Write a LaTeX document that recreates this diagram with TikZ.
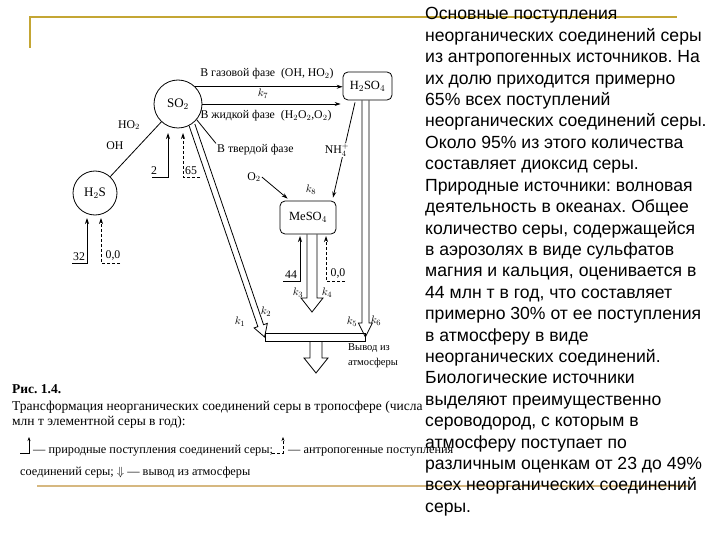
\documentclass[tikz,border=0pt]{standalone}
\usepackage{fontspec}
\setmainfont{Liberation Serif}
\newfontfamily\slidefont{Liberation Sans}
\usetikzlibrary{calc, positioning}
\usetikzlibrary{arrows.meta}
\frenchspacing

\definecolor{slidegold}{RGB}{196,166,52}
\definecolor{slidetan}{RGB}{214,184,128}

% open broad arrow: start, tip, stem half width, head half width, head length
\newcommand{\fatarrow}[5]{%
  \coordinate (fh) at ($(#2)!#5!(#1)$);
  \draw[thick] ($(#1)!#3!90:(#2)$) -- ($(fh)!#3!90:(#2)$) -- ($(fh)!#4!90:(#2)$) -- (#2)
    -- ($(fh)!#4!-90:(#2)$) -- ($(fh)!#3!-90:(#2)$) -- ($(#1)!#3!-90:(#2)$);
}

\begin{document}
\begin{tikzpicture}[x=1pt, y=-1pt,
  lbl/.style={font=\fontsize{11.8}{13}\selectfont, inner sep=1pt},
  kk/.style={font=\fontsize{11}{12}\selectfont, inner sep=0.5pt},
  species/.style={draw, thick, circle, minimum size=48pt, inner sep=0pt, font=\fontsize{13}{14}\selectfont},
  salt/.style={draw, thick, rounded corners=5pt, inner sep=0pt, font=\fontsize{12.5}{14}\selectfont},
  flow/.style={thick, -{Stealth[length=6pt, width=4pt]}},
  anthro/.style={flow, densely dashed},
  captext/.style={anchor=base west, inner sep=0pt, font=\fontsize{13.5}{15}\selectfont},
  legend/.style={anchor=base west, inner sep=0pt, font=\fontsize{12.3}{13}\selectfont},
  slide/.style={anchor=base west, inner sep=0pt, font=\slidefont\fontsize{17.6}{21}\selectfont}]
\useasboundingbox (0,0) rectangle (720,540);

\draw[slidegold, line width=2.5pt] (30,48) -- (30,17) -- (677,17);
\draw[slidetan, line width=1.5pt] (37,486) -- (688,486);

% compounds
\node[species] (SO2) at (178,104) {SO$_2$};
\node[species, minimum size=44pt] (H2S) at (95,193) {H$_2$S};
\node[salt, minimum width=49pt, minimum height=28pt] (H2SO4) at (367.5,86) {H$_2$SO$_4$};
\node[salt, minimum width=56pt, minimum height=33pt] (MeSO4) at (308,217.5) {MeSO$_4$};
\node[draw, thick, minimum width=100pt, minimum height=8pt, inner sep=0pt] (bar) at (315,337) {};

% oxidation of SO2
\draw[thick] (H2S) -- (SO2);
\node[lbl] (ho2) at (129,125) {HO$_2$};
\node[lbl] (oh) at (115,146) {OH};
\draw[flow] (SO2.45) -- (SO2.45 -| H2SO4.west);
\draw[flow] (SO2.east) -- ($(SO2.east -| H2SO4.west)+(-2,0)$);
\node[lbl] (gas) at (267,74) {В газовой фазе\ \ (OH, HO$_2$)};
\node[kk] (k7) at (263,94) {$k_7$};
\node[lbl] (liq) at (266,116) {В жидкой фазе\ \ (H$_2$O$_2$,O$_2$)};
\node[lbl, anchor=west] (sol) at (216,150) {В твердой фазе};
\draw[thick] (SO2.-40) -- (sol.north west);

% inputs
\coordinate (in2) at ($(SO2)+(-26,73)$);
\coordinate (in65) at ($(SO2)+(22,73)$);
\draw[flow] (in2) -| ($(SO2)+(-10,29)$);
\draw[anthro] (in65) -| ($(SO2)+(5,29)$);
\node[lbl, anchor=south] at ($(in2)+(2,-1)$) {2};
\node[lbl, anchor=south] at ($(in65)+(-9,-1)$) {65};

\coordinate (in32) at ($(H2S)+(-23,70)$);
\coordinate (in00) at ($(H2S)+(25,70)$);
\draw[flow] (in32) -| ($(H2S)+(-8,25)$);
\draw[anthro] (in00) -| ($(H2S)+(6,25)$);
\node[lbl, anchor=south] at ($(in32)+(7,-1)$) {32};
\node[lbl, anchor=south] at ($(in00)+(-7,-1)$) {0,0};

\coordinate (in44) at ($(MeSO4)+(-25,63.5)$);
\coordinate (inm) at ($(MeSO4)+(37,63.5)$);
\draw[flow] (in44) -| ($(MeSO4)+(-8,18.5)$);
\draw[anthro] (inm) -| ($(MeSO4)+(18,18.5)$);
\node[lbl, anchor=south] at ($(in44)+(8,-1)$) {44};
\node[lbl, anchor=south] at ($(inm)+(-7,-1)$) {0,0};

% sulphate formation
\node[lbl] (O2) at (254,177) {O$_2$};
\draw[flow] (O2.east) -- ($(MeSO4.north west)+(8,-2)$);
\node[kk] (k8) at ($(MeSO4)+(3,-27.5)$) {$k_8$};
\draw[flow] ($(H2SO4.south)+(-12.5,2)$) -- ($(MeSO4.north)+(25,-3)$);
\node[lbl, fill=white, inner sep=0.5pt] (nh4) at (337,150) {NH$_4^+$};

% removal
\coordinate (so2out) at (192,125);
\coordinate (mout) at (312,312);
\fatarrow{so2out}{bar.west}{3pt}{7pt}{12pt}
\fatarrow{bar.east |- H2SO4.south}{bar.east}{3.5pt}{7pt}{14pt}
\fatarrow{MeSO4.south -| mout}{mout}{5pt}{11pt}{14pt}
\coordinate (sink) at (316,373);
\fatarrow{bar.south -| sink}{sink}{6pt}{12pt}{15pt}
\node[kk] (k1) at (240,322) {$k_1$};
\node[kk] (k2) at (266,312) {$k_2$};
\node[kk] (k3) at ($(MeSO4)+(-10,75)$) {$k_3$};
\node[kk] (k4) at ($(MeSO4)+(19,75)$) {$k_4$};
\node[kk] (k5) at (352,322) {$k_5$};
\node[kk] (k6) at (376,321) {$k_6$};
\node[anchor=north west, align=left, inner sep=0pt, font=\fontsize{10.5}{15}\selectfont] (out) at (348,343) {Вывод из\\атмосферы};

% caption
\node[captext, font=\bfseries\fontsize{13.5}{15}\selectfont] (fig) at (12,393) {Рис. 1.4.};
\node[captext] (cap1) at (12,410) {Трансформация неорганических соединений серы в тропосфере (числа};
\node[captext] (cap2) at (12,425) {млн т элементной серы в год):};
\coordinate (ln1) at (20,453);
\coordinate (la1) at (272,453);
\draw[flow, -{Stealth[length=4pt, width=3pt]}] (ln1) -| ($(ln1)+(9,-16)$);
\draw[anthro, -{Stealth[length=4pt, width=3pt]}] (la1) -| ($(la1)+(11,-16)$);
\node[legend] (leg1) at (33,453) {--- природные поступления соединений серы;};
\node[legend] (leg2) at (288,453) {--- антропогенные поступления};
\node[legend] (leg3) at (20,475) {соединений серы; $\Downarrow$ --- вывод из атмосферы};

% slide text
\foreach \t [count=\i] in {{Основные поступления}, {неорганических соединений серы},
  {из антропогенных источников. На}, {их долю приходится примерно},
  {65\% всех поступлений}, {неорганических соединений серы.},
  {Около 95\% из этого количества}, {составляет диоксид серы.},
  {Природные источники: волновая}, {деятельность в океанах. Общее},
  {количество серы, содержащейся}, {в аэрозолях в виде сульфатов},
  {магния и кальция, оценивается в}, {44 млн т в год, что составляет},
  {примерно 30\% от ее поступления}, {в атмосферу в виде},
  {неорганических соединений.}, {Биологические источники},
  {выделяют преимущественно}, {сероводород, с которым в},
  {атмосферу поступает по}, {различным оценкам от 23 до 49\%},
  {всех неорганических соединений}, {серы.}}
  \node[slide] (t\i) at (425, {20+(\i-1)*21.4}) {\t};
\end{tikzpicture}
\end{document}
